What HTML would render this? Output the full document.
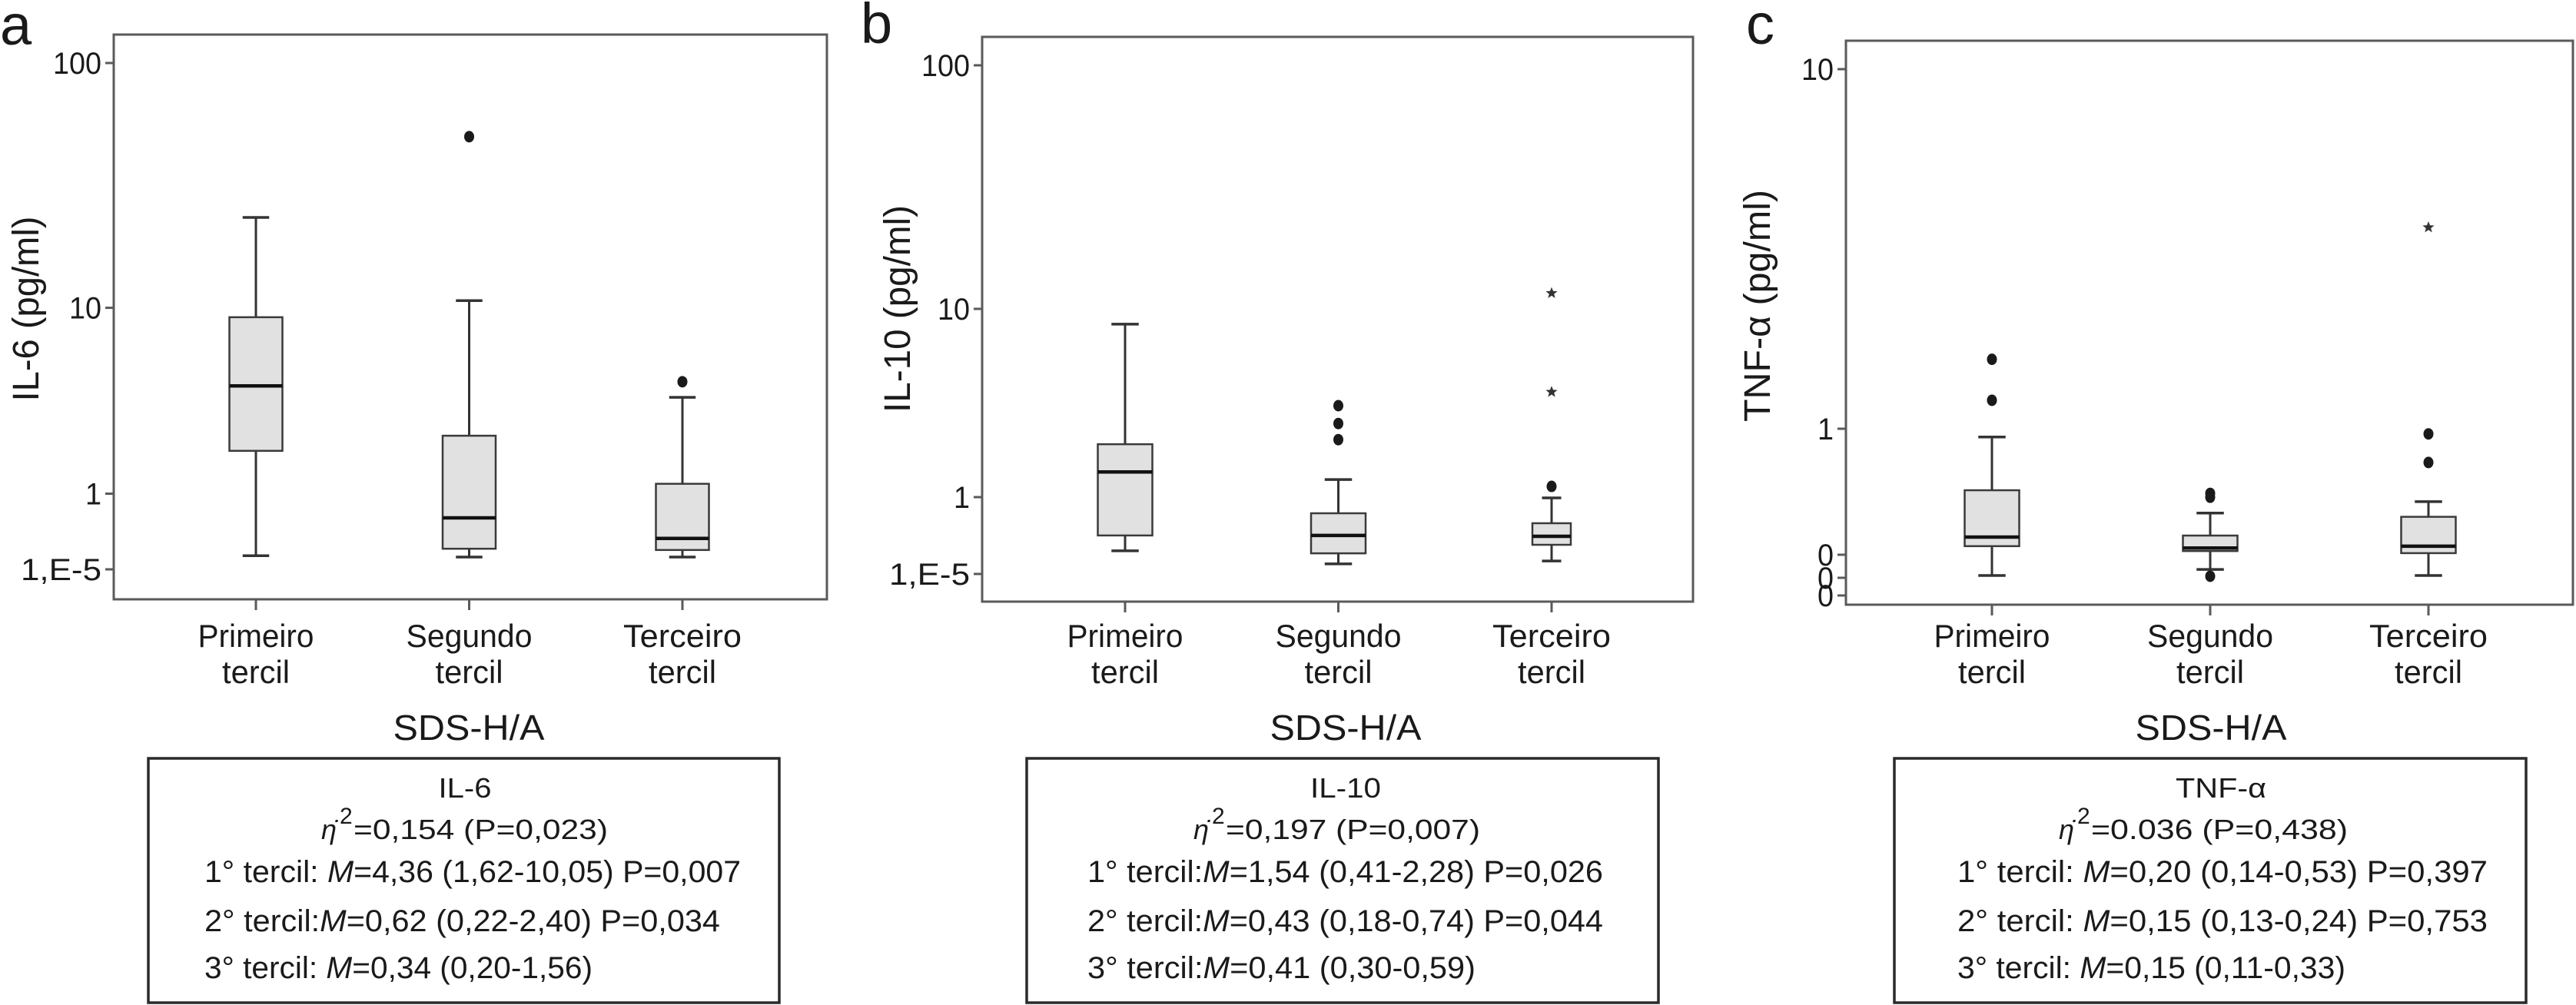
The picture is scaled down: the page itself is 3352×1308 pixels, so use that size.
<!DOCTYPE html>
<html>
<head>
<meta charset="utf-8">
<style>
  html,body{margin:0;padding:0;background:#fff;}
  svg{display:block;}
  text{font-family:"Liberation Sans",Arial,sans-serif;fill:#1a1a1a;}
</style>
</head>
<body>
<svg id="fig" width="3352" height="1308" viewBox="0 0 3352 1308" xmlns="http://www.w3.org/2000/svg">
  <rect x="0" y="0" width="3352" height="1308" fill="#fff"/>
</svg>
<script>
// ---------- data ----------
const categories = ["Primeiro", "Segundo", "Terceiro"];

// Panel a: IL-6
const il6WhiskerLow = [8e-5, 6.5e-5, 6.5e-5];
const il6Q1 = [1.7, 2.3e-4, 1.9e-4];
const il6Median = [3.8, 0.025, 1.1e-3];
const il6Q3 = [8.9, 2.05, 1.13];
const il6WhiskerHigh = [23.4, 10.7, 3.3];
const il6OutlierCat = [1, 2];
const il6OutlierVal = [50, 4.0];
const il6OutlierType = ["o", "o"];
const il6TickValues = [100, 10, 1, 1e-5];
const il6TickLabels = ["100", "10", "1", "1,E-5"];

// Panel b: IL-10
const il10WhiskerLow = [3.2e-4, 4.5e-5, 7e-5];
const il10Q1 = [3.2e-3, 2.2e-4, 7.9e-4];
const il10Median = [1.36, 3.2e-3, 2.8e-3];
const il10Q3 = [1.91, 0.089, 0.02];
const il10WhiskerHigh = [8.3, 1.24, 0.89];
const il10OutlierCat = [1, 1, 1, 2, 2, 2];
const il10OutlierVal = [3.06, 2.46, 2.02, 11.6, 3.62, 1.14];
const il10OutlierType = ["o", "o", "o", "*", "*", "o"];
const il10TickValues = [100, 10, 1, 1e-5];
const il10TickLabels = ["100", "10", "1", "1,E-5"];

// Panel c: TNF-alpha
const tnfWhiskerLow = [0.0126, 0.023, 0.0126];
const tnfQ1 = [0.117, 0.107, 0.103];
const tnfMedian = [0.138, 0.113, 0.117];
const tnfQ3 = [0.325, 0.142, 0.2];
const tnfWhiskerHigh = [0.86, 0.214, 0.264];
const tnfOutlierCat = [0, 0, 1, 1, 1, 2, 2, 2];
const tnfOutlierVal = [1.56, 1.2, 0.307, 0.286, 0.0117, 3.63, 0.91, 0.54];
const tnfOutlierType = ["o", "o", "o", "o", "o", "*", "o", "o"];
const tnfTickValues = [10, 1, 0.1, 0.01, 0.001];
const tnfTickLabels = ["10", "1", "0", "0", "0"];

// ---------- layout ----------
const NS = "http://www.w3.org/2000/svg";
const svg = document.getElementById("fig");

function el(tag, attrs, parent) {
  const e = document.createElementNS(NS, tag);
  for (const k in attrs) e.setAttribute(k, attrs[k]);
  (parent || svg).appendChild(e);
  return e;
}

// piecewise log scale through tick knots (the original axis is non-uniform)
function makeYScale(vals, px) {
  const lv = vals.map(v => Math.log10(v));
  return function (v) {
    const l = Math.log10(v);
    let i = 0;
    while (i < lv.length - 2 && l < lv[i + 1]) i++;
    const t = (l - lv[i]) / (lv[i + 1] - lv[i]);
    return px[i] + t * (px[i + 1] - px[i]);
  };
}

const panels = [
  {
    key: "il6", letter: "a", title: "IL-6 (pg/ml)", titleLen: 241,
    frame: {l: 148, r: 1076, t: 45, b: 780}, x0: 333, step: 277.5, boxW: [69, 69, 69],
    tickPx: [82, 400.6, 642.5, 741], tickVals: il6TickValues, tickLabels: il6TickLabels,
    wl: il6WhiskerLow, q1: il6Q1, med: il6Median, q3: il6Q3, wh: il6WhiskerHigh,
    oc: il6OutlierCat, ov: il6OutlierVal, ot: il6OutlierType,
    letterXY: [0, 58], titleXY: [50, 402],
    box: {l: 193, r: 1014}, sdsX: 610, boxTitleW: 69, boxTitleX: 605,
    lines: ["IL-6", "=0,154 (P=0,023)",
      "1° tercil: |M|=4,36 (1,62-10,05) P=0,007",
      "2° tercil:|M|=0,62 (0,22-2,40) P=0,034",
      "3° tercil: |M|=0,34 (0,20-1,56)"],
    lineW: [698, 671, 505], etaW: 373, etaX: 418
  },
  {
    key: "il10", letter: "b", title: "IL-10 (pg/ml)", titleLen: 270,
    frame: {l: 1278, r: 2203, t: 48, b: 783}, x0: 1464, step: 277.5, boxW: [71, 71, 50],
    tickPx: [85, 402, 647, 747], tickVals: il10TickValues, tickLabels: il10TickLabels,
    wl: il10WhiskerLow, q1: il10Q1, med: il10Median, q3: il10Q3, wh: il10WhiskerHigh,
    oc: il10OutlierCat, ov: il10OutlierVal, ot: il10OutlierType,
    letterXY: [1120, 56], titleXY: [1184, 402],
    box: {l: 1336, r: 2158}, sdsX: 1751, boxTitleW: 92, boxTitleX: 1751,
    lines: ["IL-10", "=0,197 (P=0,007)",
      "1° tercil:|M|=1,54 (0,41-2,28) P=0,026",
      "2° tercil:|M|=0,43 (0,18-0,74) P=0,044",
      "3° tercil:|M|=0,41 (0,30-0,59)"],
    lineW: [671, 671, 505], etaW: 373, etaX: 1553
  },
  {
    key: "tnf", letter: "c", title: "TNF-\u03B1 (pg/ml)", titleLen: 302,
    frame: {l: 2402, r: 3348, t: 53, b: 787}, x0: 2592, step: 284, boxW: [71, 71, 71],
    tickPx: [90, 558, 722, 752, 775], tickVals: tnfTickValues, tickLabels: tnfTickLabels,
    wl: tnfWhiskerLow, q1: tnfQ1, med: tnfMedian, q3: tnfQ3, wh: tnfWhiskerHigh,
    oc: tnfOutlierCat, ov: tnfOutlierVal, ot: tnfOutlierType,
    letterXY: [2272, 57], titleXY: [2303, 398],
    box: {l: 2465, r: 3287}, sdsX: 2877, boxTitleW: 118, boxTitleX: 2890,
    lines: ["TNF-\u03B1", "=0.036 (P=0,438)",
      "1° tercil: |M|=0,20 (0,14-0,53) P=0,397",
      "2° tercil: |M|=0,15 (0,13-0,24) P=0,753",
      "3° tercil: |M|=0,15 (0,11-0,33)"],
    lineW: [690, 690, 505], etaW: 376, etaX: 2679
  }
];

function starPoints(cx, cy, R) {
  const pts = [];
  for (let k = 0; k < 10; k++) {
    const r = k % 2 === 0 ? R : R * 0.42;
    const a = -Math.PI / 2 + k * Math.PI / 5;
    pts.push((cx + r * Math.cos(a)).toFixed(1) + "," + (cy + r * Math.sin(a)).toFixed(1));
  }
  return pts.join(" ");
}

panels.forEach(p => {
  const g = el("g", {});
  
  
  const y = makeYScale(p.tickVals, p.tickPx);
  const x = i => p.x0 + i * p.step;
  const f = p.frame;

  const lt = el("text", {x: p.letterXY[0], y: p.letterXY[1], "font-size": 74}, g);
  lt.textContent = p.letter;
  
  

  const fr = el("rect", {x: f.l, y: f.t, width: f.r - f.l, height: f.b - f.t, fill: "none", stroke: "#5a5a5a", "stroke-width": 3}, g);
  
  

  p.tickVals.forEach((v, i) => {
    const ty = y(v);
    const tk = el("line", {x1: f.l - 11, x2: f.l, y1: ty, y2: ty, stroke: "#5a5a5a", "stroke-width": 3}, g);
    
    
    const tl = el("text", {x: f.l - 16, y: ty + 14, "font-size": 40, "text-anchor": "end"}, g);
    tl.textContent = p.tickLabels[i];
    const w = tl.textContent.length * 21;
    tl.setAttribute("textLength", w);
    tl.setAttribute("lengthAdjust", "spacingAndGlyphs");
    
    
  });

  const yt = el("text", {x: 0, y: 0, "font-size": 48, "text-anchor": "middle",
    transform: "translate(" + p.titleXY[0] + "," + p.titleXY[1] + ") rotate(-90)",
    textLength: p.titleLen, lengthAdjust: "spacingAndGlyphs"}, g);
  yt.textContent = p.title;
  
  

  const catW = [151, 164, 154];
  categories.forEach((c, i) => {
    const cx = x(i);
    const xt = el("line", {x1: cx, x2: cx, y1: f.b, y2: f.b + 14, stroke: "#5a5a5a", "stroke-width": 3}, g);
    
    
    const t1 = el("text", {x: cx, y: 842, "font-size": 42, "text-anchor": "middle", textLength: catW[i], lengthAdjust: "spacingAndGlyphs"}, g);
    t1.textContent = c;
    
    
    const t2 = el("text", {x: cx, y: 889, "font-size": 42, "text-anchor": "middle", textLength: 88, lengthAdjust: "spacingAndGlyphs"}, g);
    t2.textContent = "tercil";
    
    
  });

  categories.forEach((c, i) => {
    const cx = x(i), bw = p.boxW[i];
    const bg = el("g", {}, g);
    
    
    const yl = y(p.wl[i]), yh = y(p.wh[i]), y1 = y(p.q1[i]), y3 = y(p.q3[i]), ym = y(p.med[i]);
    const cap = bw * 0.5;
    el("line", {x1: cx, x2: cx, y1: yh, y2: y3, stroke: "#333", "stroke-width": 3}, bg);
    el("line", {x1: cx, x2: cx, y1: y1, y2: yl, stroke: "#333", "stroke-width": 3}, bg);
    el("line", {x1: cx - cap / 2, x2: cx + cap / 2, y1: yh, y2: yh, stroke: "#333", "stroke-width": 3.5}, bg);
    el("line", {x1: cx - cap / 2, x2: cx + cap / 2, y1: yl, y2: yl, stroke: "#333", "stroke-width": 3.5}, bg);
    el("rect", {x: cx - bw / 2, y: y3, width: bw, height: Math.max(1, y1 - y3), fill: "#e1e1e1", stroke: "#3a3a3a", "stroke-width": 2.5}, bg);
    const md = el("line", {x1: cx - bw / 2, x2: cx + bw / 2, y1: ym, y2: ym, stroke: "#111", "stroke-width": 4.5}, bg);
    
    
  });

  p.ov.forEach((v, k) => {
    const cx = x(p.oc[k]), cy = y(v);
    let o;
    if (p.ot[k] === "*") {
      o = el("polygon", {points: starPoints(cx, cy, 8), fill: "#333"}, g);
      
    } else {
      o = el("ellipse", {cx: cx, cy: cy, rx: 6.5, ry: 7.5, fill: "#1a1a1a"}, g);
      
    }
    
  });

  const st = el("text", {x: p.sdsX, y: 963, "font-size": 46, "text-anchor": "middle", textLength: 197, lengthAdjust: "spacingAndGlyphs"}, g);
  st.textContent = "SDS-H/A";
  
  

  const sb = el("g", {}, g);
  
  
  el("rect", {x: p.box.l, y: 987, width: p.box.r - p.box.l, height: 318, fill: "#fff", stroke: "#2a2a2a", "stroke-width": 3.5}, sb);
  const tt = el("text", {x: p.boxTitleX, y: 1038, "font-size": 36, "text-anchor": "middle", textLength: p.boxTitleW, lengthAdjust: "spacingAndGlyphs"}, sb);
  tt.textContent = p.lines[0];
  
  

  const eg = el("g", {}, sb);
  
  
  const eta = el("text", {x: p.etaX, y: 1092, "font-size": 36, "font-style": "italic", "font-family": "Liberation Serif, serif"}, eg);
  eta.textContent = "\u03B7\u0307";
  const sup = el("text", {x: p.etaX + 24, y: 1072, "font-size": 30}, eg);
  sup.textContent = "2";
  const et = el("text", {x: p.etaX + 42, y: 1092, "font-size": 36, textLength: p.etaW - 42, lengthAdjust: "spacingAndGlyphs"}, eg);
  et.textContent = p.lines[1];

  const ys = [1148, 1212, 1273];
  const lx = p.box.l + (p.key === "il6" ? 73 : p.key === "il10" ? 79 : 82);
  for (let j = 0; j < 3; j++) {
    const parts = p.lines[j + 2].split("|");
    const t = el("text", {x: lx, y: ys[j], "font-size": 40, textLength: p.lineW[j], lengthAdjust: "spacingAndGlyphs"}, sb);
    const s1 = el("tspan", {}, t); s1.textContent = parts[0];
    const s2 = el("tspan", {"font-style": "italic"}, t); s2.textContent = parts[1];
    const s3 = el("tspan", {}, t); s3.textContent = parts[2];
    
    
  }
});
</script>
</body>
</html>
